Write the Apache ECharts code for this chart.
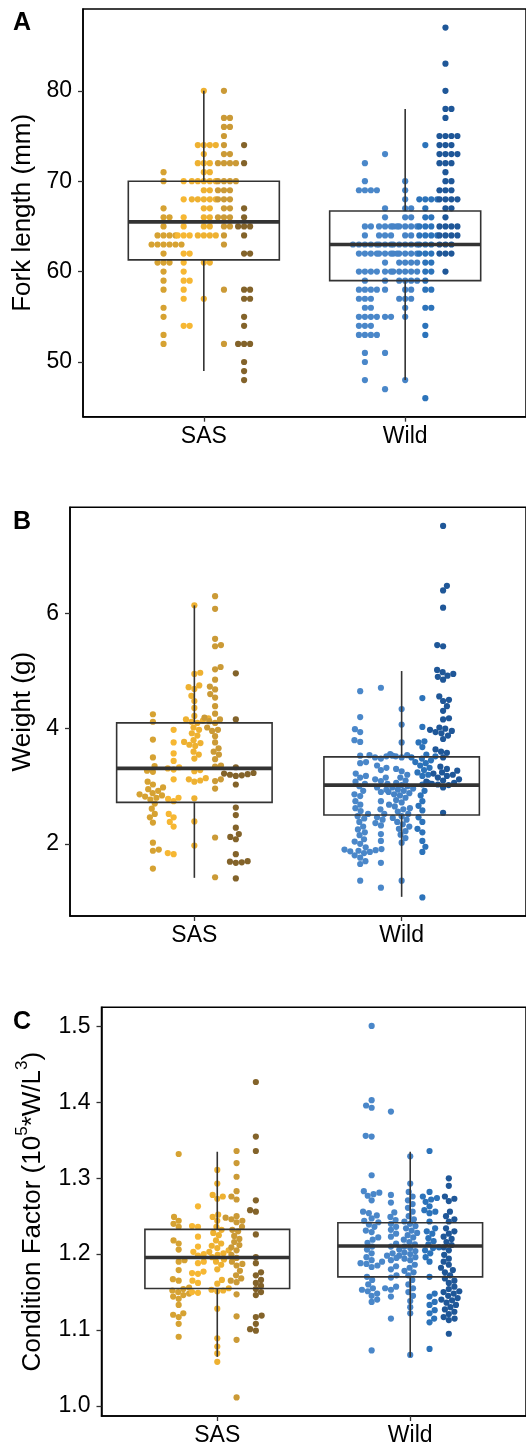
<!DOCTYPE html>
<html><head><meta charset="utf-8">
<script src="https://cdn.jsdelivr.net/npm/echarts@6/dist/echarts.min.js"></script>
<style>html,body{margin:0;padding:0;background:#fff}#c{width:526px;height:1449px}</style>
</head><body><div id="c"></div><script>
// ---------- data ----------
const categories = ['SAS', 'Wild'];
const subOffsets = [-0.2, -0.1, 0, 0.1, 0.2];
const sasColors = ['#d6a232', '#f6b733', '#eeb131', '#cb9a36', '#83632a'];
const wildColors = ['#4a87c9', '#4a87c9', '#4683c6', '#2c73ba', '#1f5798'];

// Panel A: fork length (mm)
const forkSAS1 = [71,70,67,66,66,65,64,64,64,64,63,63,63,63,63,63,62,61,61,61,60,59,58,56,55,53,52];
const forkSAS2 = [70,68,66,65,64,64,64,62,62,61,60,59,59,58,57,54,54];
const forkSAS3 = [80,74,74,74,74,73,72,72,72,71,71,70,70,70,70,70,69,69,68,68,68,68,68,67,67,66,66,65,65,64,64,64,64,61,61,57];
const forkSAS4 = [80,77,77,76,76,75,74,73,73,72,72,72,72,70,70,70,70,69,69,69,68,68,68,67,67,66,66,66,65,65,64,63,58,52];
const forkSAS5 = [74,72,67,66,65,65,65,64,62,62,58,58,57,57,55,54,52,52,52,50,49,48];
const forkWild1 = [72,70,69,69,69,69,65,65,64,63,63,63,63,63,62,62,62,62,60,60,60,60,59,58,58,58,58,57,57,57,56,56,55,55,55,55,54,54,54,53,53,53,53,51,50,48];
const forkWild2 = [73,67,66,65,65,65,65,64,64,64,63,63,63,62,62,62,62,61,60,60,59,58,55,55,51,47];
const forkWild3 = [70,69,68,67,67,66,66,65,65,65,65,65,64,64,63,63,63,63,63,62,62,62,62,62,61,61,61,61,60,60,60,60,60,59,59,59,59,58,58,57,57,57,56,55,48];
const forkWild4 = [74,68,68,68,68,67,66,66,65,65,65,64,64,64,64,63,63,63,62,62,62,61,61,60,60,59,58,58,56,56,54,53,46];
const forkWild5 = [87,83,80,78,78,77,75,75,75,75,74,74,74,73,73,73,73,72,72,72,71,70,70,69,69,69,68,68,68,68,67,67,66,65,65,65,65,64,64,64,64,63,63,63,62,62,62,60];
const forkBoxSAS = [49, 61.3, 65.5, 70, 80];
const forkBoxWild = [48, 59, 63, 66.7, 78];
const forkTicks = [50, 60, 70, 80];

// Panel B: weight (g)
const weightSAS1 = [4.25,4.12,3.81,3.50,3.35,3.27,3.25,3.08,3.03,2.98,2.95,2.92,2.88,2.86,2.84,2.82,2.80,2.77,2.70,2.61,2.52,2.46,2.37,2.02,1.90,1.88,1.57];
const weightSAS2 = [3.98,3.76,3.57,3.44,3.33,3.31,3.29,3.12,2.80,2.78,2.74,2.52,2.46,2.38,2.30,1.84,1.82];
const weightSAS3 = [6.14,4.97,4.95,4.75,4.72,4.69,4.57,4.48,4.36,4.22,4.18,4.16,4.14,4.12,4.10,4.02,3.98,3.92,3.88,3.80,3.77,3.75,3.72,3.70,3.60,3.55,3.48,3.28,3.26,3.14,3.12,3.10,3.08,2.79,2.39,1.97];
const weightSAS4 = [6.30,6.08,5.56,5.45,5.43,5.07,5.03,4.85,4.73,4.68,4.60,4.54,4.39,4.26,4.19,4.16,4.13,4.10,4.02,3.98,3.96,3.87,3.76,3.66,3.60,3.55,3.47,3.36,3.34,3.12,3.09,2.96,2.11,1.42];
const weightSAS5 = [4.96,4.16,3.33,3.23,3.22,3.21,3.20,3.19,3.18,3.03,2.63,2.50,2.28,2.17,2.12,2.08,1.82,1.70,1.69,1.68,1.67,1.40];
const weightWild1 = [4.65,4.20,3.99,3.94,3.80,3.77,3.53,3.42,3.40,3.22,3.18,3.15,3.08,3.04,3.00,2.92,2.86,2.83,2.74,2.68,2.62,2.57,2.52,2.48,2.44,2.38,2.30,2.25,2.20,2.15,2.08,2.04,2.00,1.94,1.91,1.90,1.89,1.88,1.87,1.86,1.84,1.80,1.76,1.70,1.65,1.36];
const weightWild2 = [4.71,3.54,3.53,3.52,3.50,3.48,3.36,3.32,3.28,3.15,3.12,3.09,2.98,2.94,2.90,2.74,2.60,2.52,2.46,2.42,2.36,2.32,2.17,2.05,1.67,1.24];
const weightWild3 = [4.34,4.07,3.76,3.56,3.54,3.52,3.50,3.30,3.26,3.20,3.15,3.10,3.06,3.04,3.02,3.00,2.98,2.96,2.94,2.92,2.90,2.88,2.86,2.84,2.80,2.76,2.72,2.68,2.65,2.62,2.60,2.56,2.52,2.48,2.45,2.42,2.38,2.34,2.30,2.26,2.22,2.16,2.10,2.02,1.36];
const weightWild4 = [4.53,4.03,3.78,3.76,3.68,3.55,3.52,3.50,3.48,3.45,3.42,3.40,3.36,3.32,3.28,3.24,3.20,3.18,3.06,3.03,2.92,2.84,2.74,2.66,2.58,2.46,2.38,2.26,2.20,2.05,1.95,1.86,1.07];
const weightWild5 = [7.52,6.48,6.40,6.10,5.45,5.43,5.02,4.98,4.95,4.92,4.90,4.85,4.56,4.50,4.48,4.39,4.31,4.18,4.16,4.02,4.00,3.98,3.96,3.94,3.92,3.88,3.82,3.64,3.60,3.58,3.50,3.34,3.30,3.27,3.24,3.22,3.20,3.18,3.15,3.12,3.10,3.08,3.06,3.04,3.03,3.02,2.98,2.54];
const weightBoxSAS = [1.41, 2.72, 3.31, 4.10, 6.14];
const weightBoxWild = [1.08, 2.50, 3.02, 3.51, 5.00];
const weightTicks = [2, 4, 6];

// Panel C: condition factor
const condSAS1 = [1.332,1.249,1.244,1.240,1.236,1.218,1.214,1.206,1.192,1.190,1.179,1.167,1.165,1.156,1.154,1.152,1.150,1.148,1.146,1.144,1.141,1.133,1.122,1.120,1.117,1.108,1.091];
const condSAS2 = [1.263,1.237,1.236,1.223,1.210,1.203,1.200,1.198,1.190,1.188,1.177,1.175,1.174,1.165,1.162,1.150,1.149];
const condSAS3 = [1.311,1.293,1.278,1.276,1.273,1.252,1.249,1.244,1.236,1.232,1.228,1.225,1.218,1.214,1.211,1.208,1.205,1.203,1.201,1.199,1.196,1.193,1.190,1.186,1.180,1.166,1.161,1.155,1.153,1.152,1.151,1.128,1.089,1.078,1.069,1.058];
const condSAS4 = [1.336,1.320,1.302,1.283,1.276,1.272,1.250,1.248,1.246,1.244,1.242,1.236,1.232,1.230,1.224,1.220,1.216,1.212,1.209,1.205,1.199,1.195,1.190,1.187,1.185,1.178,1.172,1.168,1.165,1.163,1.147,1.118,1.087,1.011];
const condSAS5 = [1.427,1.355,1.336,1.271,1.258,1.256,1.226,1.196,1.188,1.176,1.172,1.166,1.162,1.158,1.154,1.150,1.146,1.119,1.117,1.108,1.101,1.099];
const condWild1 = [1.501,1.403,1.396,1.393,1.356,1.355,1.304,1.283,1.281,1.279,1.277,1.271,1.256,1.254,1.251,1.247,1.244,1.242,1.239,1.236,1.231,1.229,1.222,1.219,1.215,1.210,1.206,1.201,1.196,1.192,1.190,1.188,1.187,1.185,1.183,1.170,1.166,1.160,1.155,1.153,1.151,1.148,1.145,1.140,1.137,1.073];
const condWild2 = [1.388,1.278,1.268,1.255,1.249,1.245,1.240,1.236,1.232,1.227,1.223,1.214,1.210,1.201,1.198,1.195,1.192,1.184,1.180,1.172,1.169,1.157,1.155,1.153,1.144,1.115];
const condWild3 = [1.329,1.293,1.282,1.276,1.271,1.266,1.261,1.256,1.250,1.246,1.243,1.240,1.237,1.234,1.231,1.228,1.225,1.222,1.219,1.216,1.213,1.210,1.208,1.206,1.204,1.202,1.200,1.198,1.196,1.194,1.192,1.186,1.182,1.178,1.176,1.172,1.166,1.160,1.155,1.150,1.145,1.138,1.130,1.122,1.067];
const condWild4 = [1.336,1.282,1.276,1.274,1.272,1.269,1.263,1.258,1.256,1.254,1.243,1.234,1.230,1.227,1.221,1.217,1.213,1.209,1.208,1.205,1.201,1.196,1.190,1.170,1.148,1.144,1.137,1.133,1.126,1.122,1.115,1.110,1.075];
const condWild5 = [1.300,1.290,1.276,1.273,1.270,1.256,1.250,1.246,1.243,1.234,1.230,1.227,1.223,1.220,1.216,1.212,1.209,1.205,1.199,1.194,1.190,1.186,1.182,1.179,1.176,1.172,1.168,1.165,1.162,1.157,1.154,1.151,1.150,1.148,1.145,1.142,1.140,1.139,1.136,1.133,1.130,1.127,1.124,1.121,1.117,1.115,1.113,1.095];
const condBoxSAS = [1.0645, 1.1547, 1.1956, 1.2326, 1.335];
const condBoxWild = [1.0645, 1.170, 1.2106, 1.2413, 1.335];
const condTicks = [1.0, 1.1, 1.2, 1.3, 1.4, 1.5];

// ---------- layout ----------
const FONT = 'Liberation Sans, Arial, Helvetica, sans-serif';
const RIGHT = 527;
const TICK_FS = 23, TITLE_FS = 26;
const panels = [
  { letter: 'A', top: 9, bottom: 416.7, left: 83, mode: 'dot', titleX: 23,
    title: 'Fork length (mm)',
    sas: [forkSAS1, forkSAS2, forkSAS3, forkSAS4, forkSAS5],
    wild: [forkWild1, forkWild2, forkWild3, forkWild4, forkWild5],
    box: [forkBoxSAS, forkBoxWild], ticks: forkTicks, fmt: v => String(Math.round(v)) },
  { letter: 'B', top: 507.3, bottom: 916, left: 70, mode: 'swarm', titleX: 23,
    title: 'Weight (g)',
    sas: [weightSAS1, weightSAS2, weightSAS3, weightSAS4, weightSAS5],
    wild: [weightWild1, weightWild2, weightWild3, weightWild4, weightWild5],
    box: [weightBoxSAS, weightBoxWild], ticks: weightTicks, fmt: v => String(Math.round(v)) },
  { letter: 'C', top: 1007.3, bottom: 1416, left: 101.5, mode: 'swarm', titleX: 30,
    title: 'cond',
    sas: [condSAS1, condSAS2, condSAS3, condSAS4, condSAS5],
    wild: [condWild1, condWild2, condWild3, condWild4, condWild5],
    box: [condBoxSAS, condBoxWild], ticks: condTicks, fmt: v => v.toFixed(1) }
];

const DOT = 6.0;      // dot spacing (px)
const SYM = 6.2;      // symbol size (px)

function dotOffsets(vals, step) {
  const counts = {}, seen = {};
  vals.forEach(v => counts[v] = (counts[v] || 0) + 1);
  return vals.map(v => {
    const n = counts[v];
    const a = (seen[v] = (seen[v] || 0) + 1);
    return (a - 1 - Math.floor((n - 1) / 2)) * step;
  });
}
function swarmOffsets(vals, pxY, d) {
  const idx = vals.map((v, i) => i).sort((a, b) => vals[a] - vals[b]);
  const placed = [], xs = new Array(vals.length);
  let flip = 1;
  for (const i of idx) {
    const y = vals[i] * pxY;
    const near = placed.filter(p => Math.abs(p.y - y) < d);
    const cands = [0];
    near.forEach(p => { const dx = Math.sqrt(d * d - (p.y - y) * (p.y - y)); cands.push(p.x + dx, p.x - dx); });
    cands.sort((a, b) => Math.abs(a) - Math.abs(b) || (flip * (b - a)));
    let best = 0;
    for (const c of cands) {
      if (near.every(p => (p.x - c) * (p.x - c) + (p.y - y) * (p.y - y) >= d * d - 1e-6)) { best = c; break; }
    }
    flip = -flip;
    placed.push({ x: best, y }); xs[i] = best;
  }
  return xs;
}

const grid = [], xAxis = [], yAxis = [], series = [], graphic = [];
panels.forEach((p, gi) => {
  const width = RIGHT - p.left, height = p.bottom - p.top;
  const all = [].concat(...p.sas, ...p.wild);
  const dmin = Math.min(...all), dmax = Math.max(...all);
  const ext = (dmax - dmin) * 0.05;
  const ymin = dmin - ext, ymax = dmax + ext;
  const pxX = width / 2.2, pxY = height / (ymax - ymin);

  grid.push({ left: p.left, top: p.top, width, height, show: true, borderColor: '#000', borderWidth: 1.5, backgroundColor: 'transparent' });
  xAxis.push({
    gridIndex: gi, type: 'value', min: 0.4, max: 2.6,
    axisLine: { show: true, onZero: false, lineStyle: { color: '#000', width: 1.5 } },
    axisTick: { show: true, customValues: [1, 2], length: 5, lineStyle: { color: '#333', width: 1.3 } },
    axisLabel: { customValues: [1, 2], formatter: v => categories[Math.round(v) - 1] || '', fontSize: TICK_FS, color: '#000', margin: 8, fontFamily: FONT },
    splitLine: { show: false }
  });
  yAxis.push({
    gridIndex: gi, type: 'value', min: ymin, max: ymax,
    axisLine: { show: true, onZero: false, lineStyle: { color: '#000', width: 1.5 } },
    axisTick: { show: true, customValues: p.ticks, length: 5, lineStyle: { color: '#333', width: 1.3 } },
    axisLabel: { customValues: p.ticks, formatter: p.fmt, fontSize: TICK_FS, color: '#000', margin: 11, fontFamily: FONT },
    splitLine: { show: false }
  });

  [[p.sas, sasColors], [p.wild, wildColors]].forEach(([sets, colors], g) => {
    sets.forEach((vals, k) => {
      const offPx = p.mode === 'dot' ? dotOffsets(vals, DOT) : swarmOffsets(vals, pxY, DOT);
      series.push({
        type: 'scatter', xAxisIndex: gi, yAxisIndex: gi, silent: true, animation: false,
        symbol: 'circle', symbolSize: SYM, z: 2,
        itemStyle: { color: colors[k], opacity: 1 },
        data: vals.map((v, j) => [g + 1 + subOffsets[k] + offPx[j] / pxX, v])
      });
    });
  });

  series.push({
    type: 'custom', xAxisIndex: gi, yAxisIndex: gi, coordinateSystem: 'cartesian2d', silent: true, animation: false, z: 5,
    encode: { x: 0, y: [1, 2, 3, 4, 5] },
    data: p.box.map((b, i) => [i + 1].concat(b)),
    renderItem: (params, api) => {
      const x = api.value(0), hw = 0.375;
      const tl = api.coord([x - hw, api.value(4)]), br = api.coord([x + hw, api.value(2)]);
      const med = api.coord([x, api.value(3)]), top = api.coord([x, api.value(5)]), bot = api.coord([x, api.value(1)]);
      const st = { stroke: '#333333', lineWidth: 1.6, fill: null };
      return { type: 'group', children: [
        { type: 'line', shape: { x1: top[0], y1: top[1], x2: top[0], y2: tl[1] }, style: st },
        { type: 'line', shape: { x1: bot[0], y1: br[1], x2: bot[0], y2: bot[1] }, style: st },
        { type: 'rect', shape: { x: tl[0], y: tl[1], width: br[0] - tl[0], height: br[1] - tl[1] }, style: st },
        { type: 'line', shape: { x1: tl[0], y1: med[1], x2: br[0], y2: med[1] }, style: { stroke: '#333333', lineWidth: 3.6 } }
      ]};
    }
  });

  graphic.push({ type: 'text', x: 13, y: p.top + 2, style: { text: p.letter, fontSize: 25, fontWeight: 'bold', fontFamily: FONT, fill: '#000', align: 'left', verticalAlign: 'top' } });
  const cy = (p.top + p.bottom) / 2;
  if (p.title === 'cond') {
    graphic.push({ type: 'text', x: p.titleX, y: cy, rotation: Math.PI / 2,
      style: { text: '{n|Condition Factor (10}{s|5}{n|*W/L}{s|3}{n|)}', align: 'center', verticalAlign: 'middle', fill: '#000',
        rich: { n: { fontSize: TITLE_FS, fontFamily: FONT, fill: '#000', lineHeight: 32, verticalAlign: 'bottom' },
                s: { fontSize: 17, fontFamily: FONT, fill: '#000', lineHeight: 32, verticalAlign: 'top' } } } });
  } else {
    graphic.push({ type: 'text', x: p.titleX, y: cy, rotation: Math.PI / 2,
      style: { text: p.title, fontSize: TITLE_FS, fontFamily: FONT, fill: '#000', align: 'center', verticalAlign: 'middle' } });
  }
});

const chart = echarts.init(document.getElementById('c'), null, { renderer: 'canvas' });
chart.setOption({ animation: false, backgroundColor: '#fff', grid, xAxis, yAxis, series, graphic });
</script></body></html>
